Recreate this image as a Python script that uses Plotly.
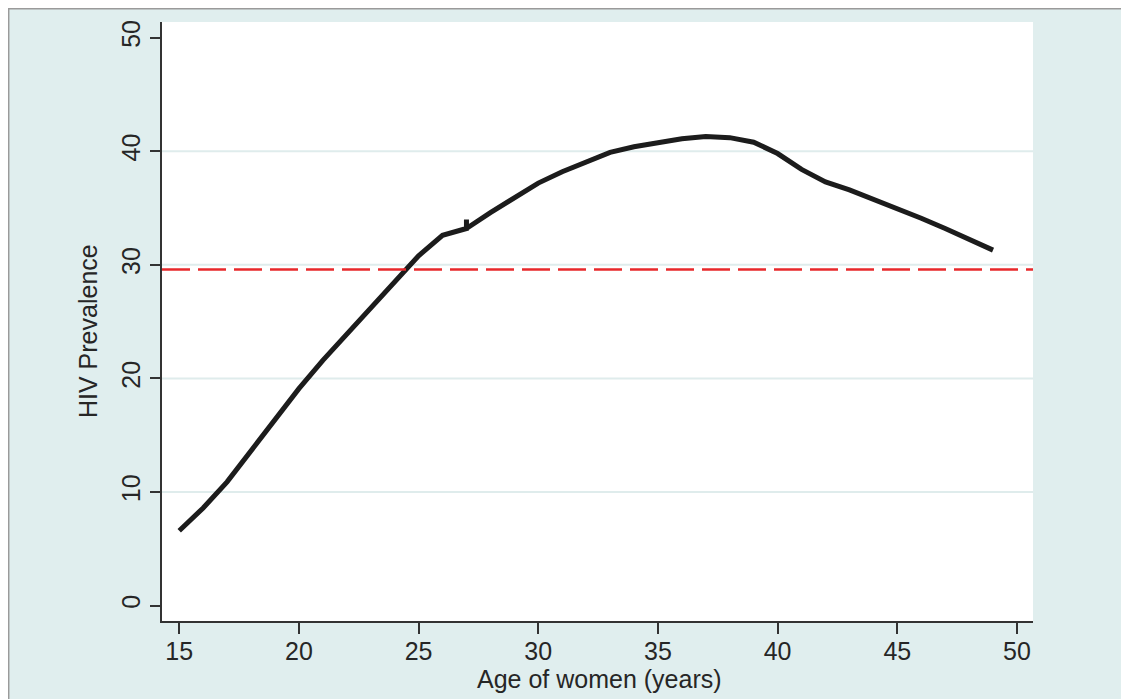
import plotly.graph_objects as go

# Data
ages = [15, 16, 17, 18, 19, 20, 21, 22, 23, 24, 25, 26, 27, 27, 27, 28, 29, 30, 31, 32,
        33, 34, 35, 36, 37, 38, 39, 40, 41, 42, 43, 44, 45, 46, 47, 48, 49]
prevalence = [6.6, 8.6, 10.9, 13.6, 16.4, 19.1, 21.6, 23.9, 26.1, 28.5, 30.8, 32.6, 33.2, 34.0, 33.2,
              34.6, 35.9, 37.2, 38.2, 39.1, 39.9, 40.4, 40.8, 41.1, 41.3, 41.2, 40.8, 39.8,
              38.4, 37.3, 36.6, 35.8, 35.0, 34.1, 33.2, 32.3, 31.3]
overall_prevalence = 29.6
x_ticks = [15, 20, 25, 30, 35, 40, 45, 50]
y_ticks = [0, 10, 20, 30, 40, 50]
grid_values = [10, 20, 30, 40]

# The page body keeps its default 8px margin, so the figure is drawn 8px in.
OFF = 8
W, H = 1129 - OFF, 699 - OFF
L, R, T, B = 162 - OFF, 1033 - OFF, 22 - OFF, 621 - OFF
pw, ph = R - L, B - T

BG = "#e0eeee"
GRID = "#dfecec"
TXT = "#262626"
FONT = "Liberation Sans, Arial, sans-serif"

fig = go.Figure()

fig.add_trace(go.Scatter(
    x=ages, y=prevalence, mode="lines",
    line=dict(color="#1c1c1c", width=5),
    showlegend=False, hoverinfo="skip",
))


def px_x(p):
    return (p - OFF - L) / pw


def px_y(p):
    return (B - (p - OFF)) / ph


shapes = []
for g in grid_values:
    shapes.append(dict(type="line", xref="paper", yref="y", x0=0, x1=1, y0=g, y1=g,
                       line=dict(color=GRID, width=2), layer="below"))
shapes.append(dict(type="line", xref="paper", yref="y", x0=0, x1=1,
                   y0=overall_prevalence, y1=overall_prevalence,
                   line=dict(color="#e8282b", width=2.5, dash="28px,8px"), layer="above"))

# grey frame lines (top & left edge of the graph region)
shapes.append(dict(type="line", xref="paper", yref="paper",
                   x0=px_x(7), x1=px_x(1135), y0=px_y(8.7), y1=px_y(8.7),
                   line=dict(color="#9a9a9a", width=1.5), layer="below"))
shapes.append(dict(type="line", xref="paper", yref="paper",
                   x0=px_x(8.7), x1=px_x(8.7), y0=px_y(705), y1=px_y(8),
                   line=dict(color="#9a9a9a", width=1.5), layer="below"))

annotations = [
    dict(text="Age of women (years)", xref="paper", yref="paper",
         x=px_x(599), y=px_y(679), xanchor="center", yanchor="middle",
         showarrow=False, font=dict(family=FONT, size=25, color=TXT)),
    dict(text="HIV Prevalence", xref="paper", yref="paper",
         x=px_x(88), y=px_y(331), xanchor="center", yanchor="middle",
         textangle=-90, showarrow=False, font=dict(family=FONT, size=25, color=TXT)),
]

fig.update_layout(
    width=W, height=H,
    margin=dict(l=L, r=W - R, t=T, b=H - B, pad=0),
    paper_bgcolor=BG, plot_bgcolor="white",
    font=dict(family=FONT, size=25, color=TXT),
    shapes=shapes, annotations=annotations,
    showlegend=False,
    xaxis=dict(
        range=[14.28, 50.67], tickvals=x_ticks, ticktext=[str(v) for v in x_ticks],
        showgrid=False, zeroline=False, showline=True, linecolor="#333333", linewidth=2,
        ticks="outside", ticklen=11, tickwidth=1.5, tickcolor="#333333",
        ticklabelstandoff=-4,
        tickfont=dict(family=FONT, size=25, color=TXT),
    ),
    yaxis=dict(
        range=[-1.35, 51.38], tickvals=y_ticks, ticktext=[str(v) for v in y_ticks],
        showgrid=False, zeroline=False, showline=True, linecolor="#333333", linewidth=2,
        ticks="outside", ticklen=10, tickwidth=1.5, tickcolor="#333333", tickangle=-90,
        tickfont=dict(family=FONT, size=25, color=TXT),
    ),
)

fig.write_html("out.html")
